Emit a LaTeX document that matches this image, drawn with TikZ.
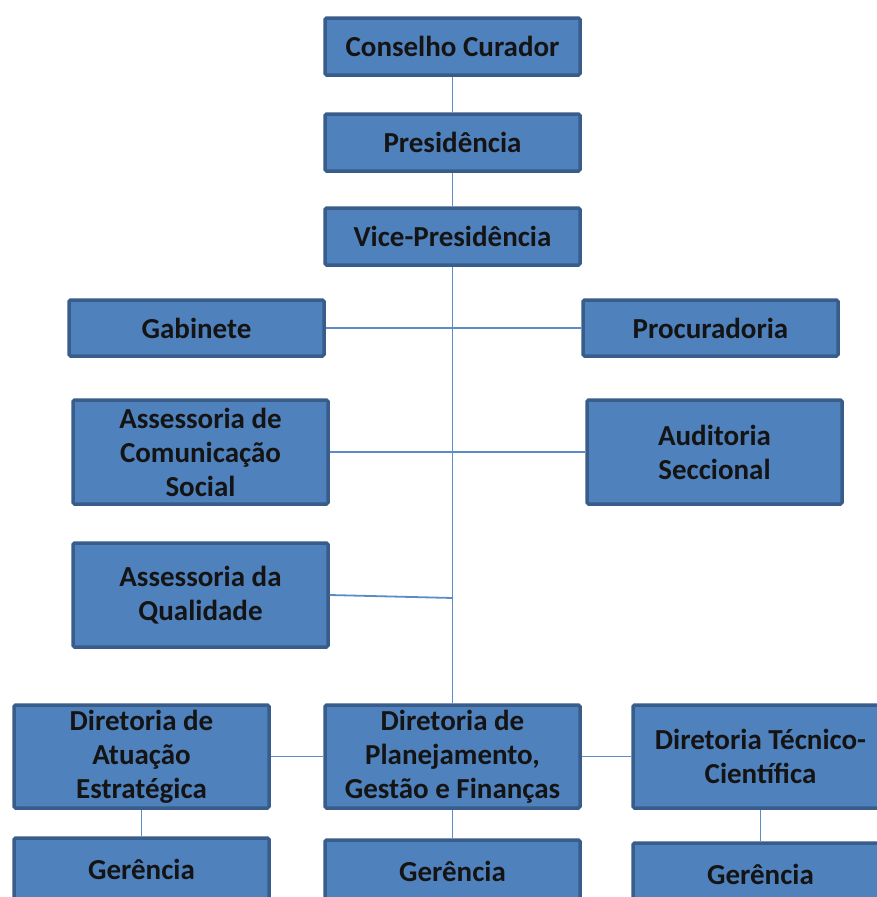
\documentclass[tikz,border=0pt]{standalone}
\usepackage{fontspec}
\setmainfont{Carlito}
\definecolor{boxfill}{HTML}{4F81BD}
\definecolor{boxline}{HTML}{385D8A}
\definecolor{conn}{HTML}{5B8CC6}
\begin{document}
\begin{tikzpicture}[x=1pt,y=-1pt,
  orgbox/.style={draw=boxline, fill=boxfill, line width=3.5pt, rounded corners=1.5pt,
    minimum width=255pt, inner sep=2pt, align=center,
    font=\fontsize{29}{34}\selectfont\bfseries, text=black!92},
  lowbox/.style={orgbox, text height=39pt, text depth=59pt},
  link/.style={draw=conn, line width=1.8pt}]
\useasboundingbox (0,0) rectangle (877,897);
\clip (0,0) rectangle (877,897);
\fill[white] (0,0) rectangle (877,897);
% top column
\node[orgbox, minimum height=57pt] (cc) at (452.5,46.5) {Conselho Curador};
\node[orgbox, minimum height=57pt] (pres) at (452.5,142.5) {Presidência};
\node[orgbox, minimum height=57pt] (vice) at (452.5,236.5) {Vice-Presidência};
% staff
\node[orgbox, minimum height=56pt] (gab) at (196.5,328) {Gabinete};
\node[orgbox, minimum height=56pt] (proc) at (710.5,328) {Procuradoria};
\node[orgbox, minimum height=104pt] (com) at (200.5,452) {Assessoria de\\Comunicação\\Social};
\node[orgbox, minimum height=104pt] (aud) at (714.5,452) {Auditoria\\Seccional};
\node[orgbox, minimum height=104pt] (qual) at (200.5,595) {Assessoria da\\Qualidade};
% directorates
\node[orgbox, minimum height=103pt] (dae) at (141.5,756.5) {Diretoria de\\Atuação\\Estratégica};
\node[orgbox, minimum height=103pt] (dpg) at (452.5,756.5) {Diretoria de\\Planejamento,\\Gestão e Finanças};
\node[orgbox, minimum height=103pt] (dtc) at (760.5,756.5) {Diretoria Técnico-\\Científica};
% managements
\node[lowbox] (g1) at (141.5,889) {Gerência};
\node[lowbox] (g2) at (452.5,891) {Gerência};
\node[lowbox] (g3) at (760.5,894) {Gerência};
\coordinate (q) at (453,598);
% connectors
\draw[link] (cc.south) -- (pres.north);
\draw[link] (pres.south) -- (vice.north);
\draw[link] (vice.south) -- (dpg.north);
\draw[link] (gab.east) -- (proc.west);
\draw[link] (com.east) -- (aud.west);
\draw[link] (qual.east) -- (q);
\draw[link] (dae.east) -- (dpg.west);
\draw[link] (dpg.east) -- (dtc.west);
\draw[link] (dae.south) -- (g1.north);
\draw[link] (dpg.south) -- (g2.north);
\draw[link] (dtc.south) -- (g3.north);
\end{tikzpicture}
\end{document}
